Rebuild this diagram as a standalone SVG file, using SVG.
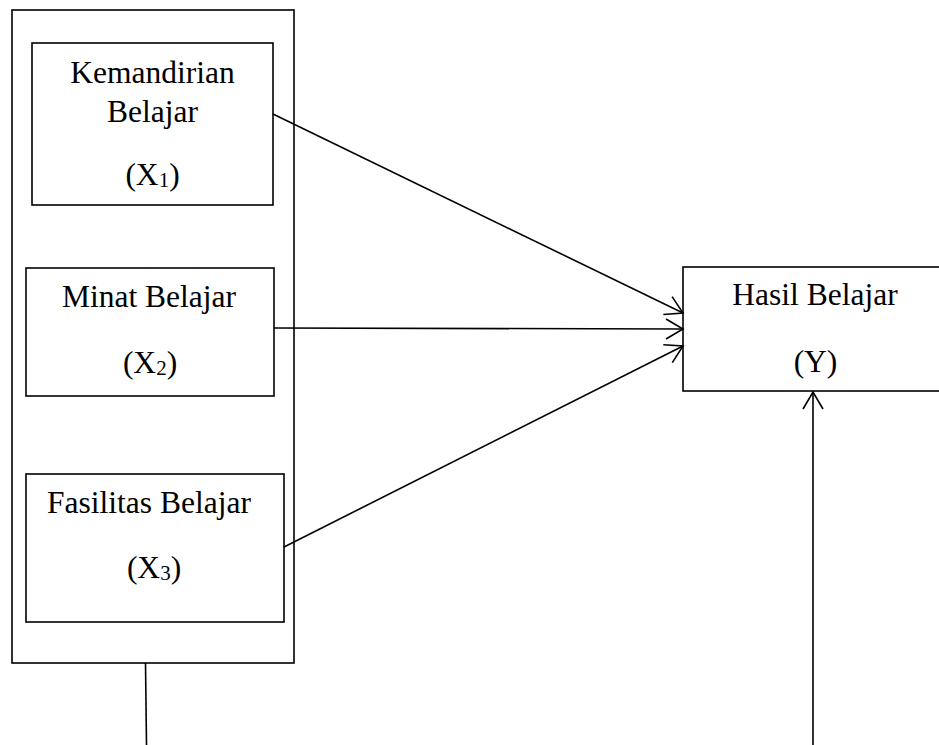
<svg xmlns="http://www.w3.org/2000/svg" width="939" height="745" viewBox="0 0 939 745">
<style>
.box{fill:#fff;stroke:#000;stroke-width:1.6}
.t{font-family:"Liberation Serif","Times New Roman",serif;font-size:31.5px;fill:#000;text-anchor:middle}
.sub{font-size:21px}
.ln{stroke:#000;stroke-width:1.6;fill:none}
</style>
<defs>
<marker id="arr" markerUnits="userSpaceOnUse" markerWidth="30" markerHeight="30" refX="0" refY="0" viewBox="-20 -15 25 30" orient="auto">
<path d="M-17,-10 L0,0 L-17,10" fill="none" stroke="#000" stroke-width="1.6"/>
</marker>
</defs>
<rect id="group" class="box" x="12" y="10" width="282" height="653"/>
<g id="x1">
<rect class="box" x="32" y="43" width="241" height="162"/>
<text class="t" x="152.5" y="83">Kemandirian</text>
<text class="t" x="152.5" y="122">Belajar</text>
<text class="t" x="152.5" y="185">(X<tspan class="sub" dy="2">1</tspan><tspan dy="-2">)</tspan></text>
</g>
<g id="x2">
<rect class="box" x="26" y="268" width="248" height="128"/>
<text class="t" x="149" y="307">Minat Belajar</text>
<text class="t" x="150" y="373">(X<tspan class="sub" dy="2">2</tspan><tspan dy="-2">)</tspan></text>
</g>
<g id="x3">
<rect class="box" x="26" y="474" width="258" height="148"/>
<text class="t" x="149" y="513">Fasilitas Belajar</text>
<text class="t" x="154" y="578">(X<tspan class="sub" dy="2">3</tspan><tspan dy="-2">)</tspan></text>
</g>
<g id="y">
<rect class="box" x="683" y="267" width="270" height="124"/>
<text class="t" x="815" y="305">Hasil Belajar</text>
<text class="t" x="815.5" y="372">(Y)</text>
</g>
<g id="connectors">
<line class="ln" x1="273" y1="114" x2="683" y2="313" marker-end="url(#arr)"/>
<line class="ln" x1="274" y1="328" x2="683" y2="329" marker-end="url(#arr)"/>
<line class="ln" x1="284" y1="547" x2="683" y2="346" marker-end="url(#arr)"/>
<line class="ln" x1="145.5" y1="663" x2="146.5" y2="745"/>
<line class="ln" x1="813" y1="745" x2="813" y2="392" marker-end="url(#arr)"/>
</g>
</svg>
